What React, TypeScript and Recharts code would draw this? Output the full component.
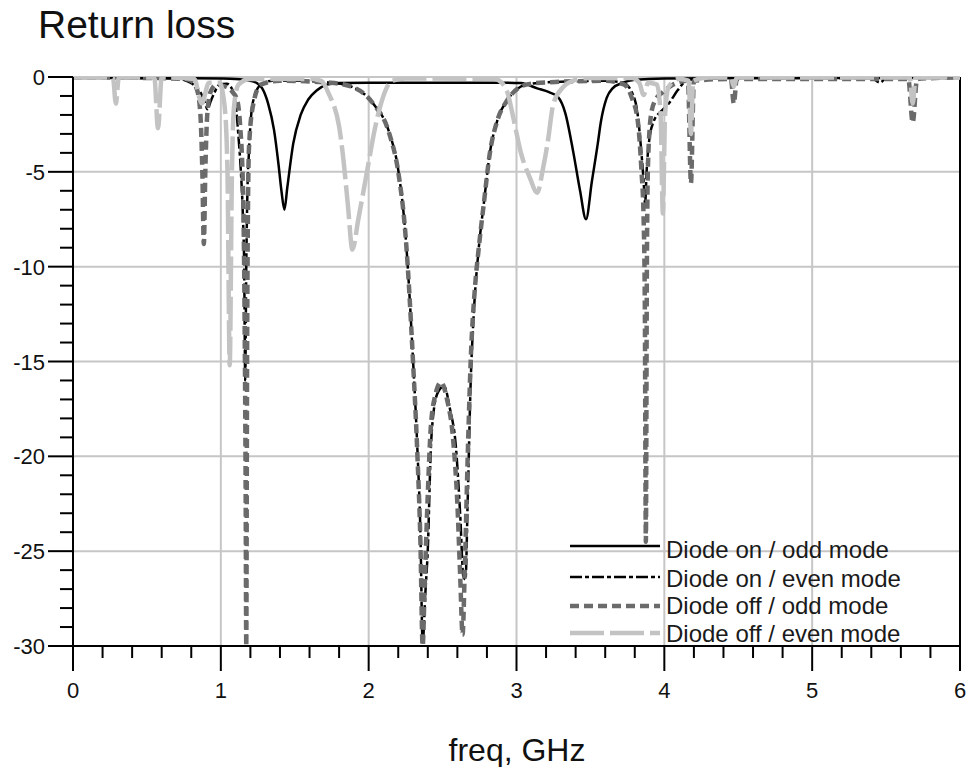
import { LineChart, Line, XAxis, YAxis, CartesianGrid, ReferenceLine } from 'recharts'

// frequency (GHz) / return loss (dB), one pair of arrays per trace
const ON_ODD_F = [0, 0.5, 1.0, 1.1, 1.2, 1.25, 1.28, 1.32, 1.36, 1.39, 1.41, 1.43, 1.45, 1.49, 1.54, 1.59, 1.65, 1.72, 1.8, 2.0, 2.5, 2.9, 3.03, 3.14, 3.22, 3.28, 3.33, 3.385, 3.43, 3.47, 3.51, 3.55, 3.57, 3.61, 3.65, 3.72, 3.8, 4.0, 5.0, 6.0]
const ON_ODD_V = [-0.05, -0.05, -0.08, -0.1, -0.2, -0.35, -0.6, -1.4, -2.8, -4.6, -6.0, -7.0, -5.8, -3.5, -2.0, -1.2, -0.7, -0.4, -0.32, -0.3, -0.3, -0.3, -0.32, -0.6, -0.8, -1.05, -1.9, -4.0, -6.0, -7.5, -5.5, -3.5, -2.4, -1.1, -0.6, -0.3, -0.15, -0.08, -0.05, -0.05]

const ON_EVEN_F = [0, 0.3, 0.7, 0.78, 0.83, 0.865, 0.89, 0.91, 0.93, 0.955, 0.99, 1.04, 1.08, 1.10, 1.12, 1.135, 1.15, 1.158, 1.165, 1.172, 1.18, 1.19, 1.215, 1.27, 1.35, 1.5, 1.74, 1.88, 2.03, 2.14, 2.2, 2.25, 2.3, 2.33, 2.35, 2.365, 2.385, 2.40, 2.42, 2.44, 2.47, 2.51, 2.55, 2.59, 2.62, 2.64, 2.655, 2.67, 2.69, 2.71, 2.745, 2.78, 2.82, 2.87, 2.94, 3.03, 3.1, 3.3, 3.6, 3.72, 3.78, 3.82, 3.845, 3.86, 3.87, 3.88, 3.9, 3.93, 3.98, 4.03, 4.09, 4.16, 4.4, 5.4, 5.46, 5.5, 6.0]
const ON_EVEN_V = [-0.02, -0.05, -0.08, -0.25, -0.5, -0.85, -1.3, -1.7, -1.3, -0.85, -0.4, -0.35, -0.7, -1.4, -3.2, -4.9, -7.5, -10, -16, -10, -6, -4, -1.4, -0.4, -0.2, -0.2, -0.3, -0.5, -1.4, -2.95, -4.9, -8.4, -14.9, -19.7, -24, -29.8, -27, -24.9, -19.7, -17.6, -16.6, -16.3, -17.5, -19.5, -23.2, -26.3, -26.5, -22.3, -16.1, -12.6, -9.0, -6.6, -4.0, -2.3, -1.2, -0.5, -0.35, -0.25, -0.2, -0.3, -0.8, -2.0, -4.0, -5.5, -6.7, -5.0, -3.2, -2.3, -1.8, -1.4, -0.7, -0.15, -0.05, -0.05, -0.3, -0.05, -0.02]

const OFF_ODD_F = [0, 0.5, 0.75, 0.8, 0.84, 0.862, 0.875, 0.885, 0.895, 0.908, 0.93, 0.97, 1.03, 1.08, 1.11, 1.13, 1.15, 1.16, 1.168, 1.172, 1.178, 1.19, 1.22, 1.27, 1.4, 1.74, 1.88, 2.03, 2.14, 2.2, 2.25, 2.3, 2.33, 2.35, 2.365, 2.38, 2.40, 2.42, 2.45, 2.49, 2.53, 2.57, 2.6, 2.62, 2.635, 2.65, 2.67, 2.69, 2.72, 2.745, 2.78, 2.82, 2.87, 2.94, 3.03, 3.1, 3.3, 3.6, 3.73, 3.78, 3.82, 3.845, 3.86, 3.868, 3.875, 3.882, 3.89, 3.91, 3.94, 3.99, 4.06, 4.16, 4.18, 4.2, 4.45, 4.47, 4.49, 5.65, 5.68, 5.71, 6.0]
const OFF_ODD_V = [-0.02, -0.05, -0.1, -0.2, -0.7, -2.0, -5.0, -8.8, -5.0, -2.0, -0.8, -0.4, -0.5, -0.8, -1.2, -2.5, -6, -12, -22, -30, -14, -3.8, -1.4, -0.4, -0.2, -0.3, -0.5, -1.4, -3.0, -5.0, -8.4, -15, -20, -24.5, -30, -26.5, -22, -18.5, -16.8, -16.1, -17, -19, -22.5, -26.5, -29.4, -26, -20, -15, -11, -9, -6.6, -4, -2.3, -1.2, -0.5, -0.35, -0.25, -0.2, -0.4, -1.1, -2.3, -4.9, -7.5, -12, -24.5, -10, -4.5, -2.0, -1.2, -0.8, -0.4, -0.2, -5.6, -0.2, -0.1, -1.4, -0.1, -0.1, -2.4, -0.1, -0.02]

const OFF_EVEN_F = [0, 0.27, 0.29, 0.31, 0.55, 0.575, 0.6, 0.82, 0.87, 0.92, 0.99, 1.025, 1.045, 1.06, 1.075, 1.09, 1.12, 1.2, 1.6, 1.68, 1.74, 1.76, 1.8, 1.83, 1.86, 1.89, 1.93, 1.97, 2.0, 2.04, 2.08, 2.12, 2.16, 2.25, 2.85, 2.9, 2.94, 2.98, 3.03, 3.09, 3.14, 3.18, 3.21, 3.25, 3.32, 3.4, 3.5, 3.78, 3.83, 3.86, 3.89, 3.95, 3.975, 3.99, 4.005, 4.03, 4.1, 4.165, 4.18, 4.195, 4.3, 4.45, 4.47, 4.49, 5.66, 5.68, 5.7, 6.0]
const OFF_EVEN_V = [-0.02, -0.02, -1.4, -0.02, -0.02, -2.7, -0.02, -0.1, -1.4, -0.3, -0.3, -1.5, -5, -15.2, -5, -1.5, -0.4, -0.1, -0.1, -0.2, -1.05, -1.4, -2.6, -4.4, -6.8, -9.1, -7.5, -5.8, -4.5, -2.8, -1.5, -0.6, -0.2, -0.08, -0.1, -0.3, -0.85, -2.2, -4.0, -5.3, -6.1, -4.8, -3.5, -1.4, -0.5, -0.15, -0.05, -0.05, -0.3, -0.95, -0.3, -0.4, -2, -7.2, -2, -0.5, -0.1, -0.2, -3.0, -0.2, -0.02, -0.02, -0.5, -0.02, -0.02, -1.4, -0.02, -0.02]

const X_TICKS = [0, 0.2, 0.4, 0.6, 0.8, 1, 1.2, 1.4, 1.6, 1.8, 2, 2.2, 2.4, 2.6, 2.8, 3, 3.2, 3.4, 3.6, 3.8, 4, 4.2, 4.4, 4.6, 4.8, 5, 5.2, 5.4, 5.6, 5.8, 6]
const Y_TICKS = [0, -1, -2, -3, -4, -5, -6, -7, -8, -9, -10, -11, -12, -13, -14, -15, -16, -17, -18, -19, -20, -21, -22, -23, -24, -25, -26, -27, -28, -29, -30]
const X_GRID = [1, 2, 3, 4, 5]
const Y_GRID = [0, -5, -10, -15, -20, -25]

const LEGEND_LABELS = ['Diode on / odd mode', 'Diode on / even mode', 'Diode off / odd mode', 'Diode off / even mode']

const FONT = '"Liberation Sans", Arial, sans-serif'

const toRows = (f: number[], v: number[]) => f.map((x, i) => ({ f: x, v: v[i] }))

const STYLES = [
  { stroke: '#000000', width: 2.5, dash: undefined },
  { stroke: '#000000', width: 2.5, dash: '12 3 4 3' },
  { stroke: '#6b6b6b', width: 4.5, dash: '9 5' },
  { stroke: '#c3c3c3', width: 4.5, dash: '34 6' },
]

const XTick = (props: any) => {
  const { x, y, payload } = props
  const major = Number.isInteger(payload.value)
  return (
    <g>
      <line x1={x} x2={x} y1={y} y2={y + (major ? 25 : 12)} stroke="#000" strokeWidth={2} />
      {major && (
        <text x={x} y={y + 52} textAnchor="middle" fontSize={22} fontFamily={FONT} fill="#111">
          {payload.value}
        </text>
      )}
    </g>
  )
}

const YTick = (props: any) => {
  const { x, y, payload } = props
  const major = payload.value % 5 === 0
  return (
    <g>
      <line x1={x - (major ? 25 : 13)} x2={x} y1={y} y2={y} stroke="#000" strokeWidth={2} />
      {major && (
        <text x={x - 28} y={y + 8} textAnchor="end" fontSize={22} fontFamily={FONT} fill="#111">
          {payload.value}
        </text>
      )}
    </g>
  )
}

export default function App() {
  const series = [
    toRows(ON_ODD_F, ON_ODD_V),
    toRows(ON_EVEN_F, ON_EVEN_V),
    toRows(OFF_ODD_F, OFF_ODD_V),
    toRows(OFF_EVEN_F, OFF_EVEN_V),
  ]

  return (
    <div style={{ position: 'absolute', left: 0, top: 0, width: 967, height: 767, background: '#fff', overflow: 'hidden' }}>
      <LineChart width={967} height={767} margin={{ top: 77, right: 7, bottom: 0, left: 0 }}>
        <CartesianGrid
          horizontalValues={Y_GRID}
          verticalValues={X_GRID}
          stroke="#c6c6c6"
          strokeWidth={2}
        />
        <XAxis
          type="number"
          dataKey="f"
          domain={[0, 6]}
          ticks={X_TICKS}
          interval={0}
          allowDataOverflow
          height={121}
          tickSize={0}
          tickMargin={0}
          tickLine={false}
          axisLine={{ stroke: '#000', strokeWidth: 2 }}
          tick={<XTick />}
        />
        <YAxis
          type="number"
          domain={[-30, 0]}
          ticks={Y_TICKS}
          interval={0}
          allowDataOverflow
          width={73}
          tickSize={0}
          tickMargin={0}
          tickLine={false}
          axisLine={{ stroke: '#000', strokeWidth: 2 }}
          tick={<YTick />}
        />
        <ReferenceLine x={6} stroke="#000" strokeWidth={2} />
        {series.map((rows, i) => (
          <Line
            key={LEGEND_LABELS[i]}
            data={rows}
            dataKey="v"
            type="monotone"
            stroke={STYLES[i].stroke}
            strokeWidth={STYLES[i].width}
            strokeDasharray={STYLES[i].dash}
            dot={false}
            activeDot={false}
            isAnimationActive={false}
          />
        ))}
      </LineChart>

      <svg width={967} height={767} style={{ position: 'absolute', left: 0, top: 0, pointerEvents: 'none' }}>
        <text x={38} y={38} fontSize={39} fontFamily={FONT} fill="#111">Return loss</text>
        <text x={517} y={761} fontSize={32} fontFamily={FONT} fill="#111" textAnchor="middle">freq, GHz</text>
        {LEGEND_LABELS.map((label, i) => {
          const lineY = [546, 577, 606, 633][i]
          const textY = [558, 587, 614, 642][i]
          return (
            <g key={label}>
              <line
                x1={570}
                x2={660}
                y1={lineY}
                y2={lineY}
                stroke={STYLES[i].stroke}
                strokeWidth={STYLES[i].width}
                strokeDasharray={STYLES[i].dash}
              />
              <text x={666} y={textY} fontSize={24} fontFamily={FONT} fill="#1a1a1a">{label}</text>
            </g>
          )
        })}
      </svg>
    </div>
  )
}
